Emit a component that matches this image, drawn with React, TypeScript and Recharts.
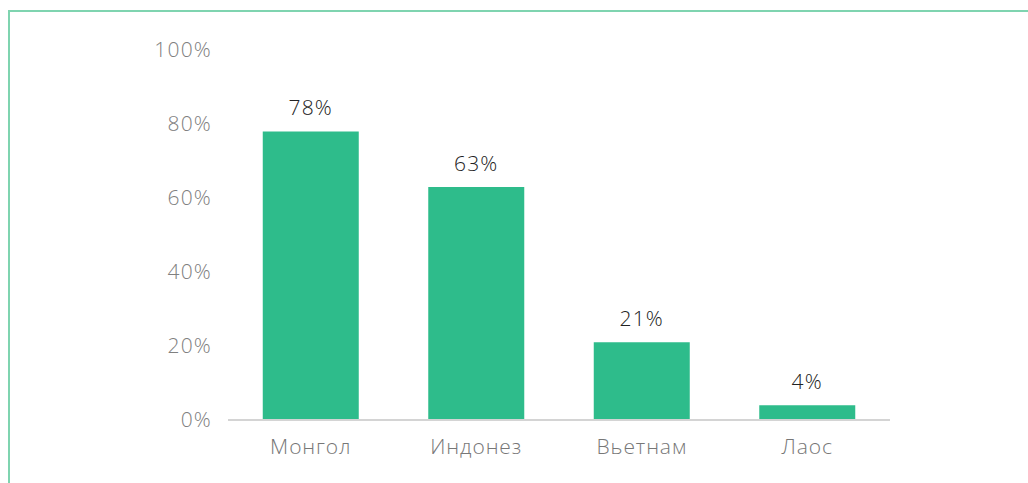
import { Bar, BarChart, LabelList, XAxis, YAxis } from 'recharts'

const countries = ['Монгол', 'Индонез', 'Вьетнам', 'Лаос']
const shares = [78, 63, 21, 4]
const yTicks = [0, 20, 40, 60, 80, 100]

const data = countries.map((name, i) => ({ name, value: shares[i] }))

const font = '"Open Sans", "Noto Sans", sans-serif'
const frame = '#7fd4b0'

export default function App() {
  return (
    <div style={{ position: 'fixed', left: 0, top: 0, width: 1028, height: 483, background: '#fff' }}>
      <div style={{ position: 'absolute', left: 8, top: 10, right: 0, height: 2, background: frame }} />
      <div style={{ position: 'absolute', left: 8, top: 10, width: 2, bottom: 0, background: frame }} />
      <BarChart
        width={1028}
        height={483}
        data={data}
        margin={{ top: 50, right: 138, bottom: 0, left: 0 }}
        barCategoryGap="21%"
        style={{ position: 'absolute', left: 0, top: 0, fontFamily: font }}
      >
        <XAxis
          dataKey="name"
          height={63}
          axisLine={{ stroke: '#d4d4d4', strokeWidth: 2 }}
          tickLine={false}
          tickSize={0}
          tickMargin={19}
          tick={{ fontSize: 21, fill: '#777', fontWeight: 300, letterSpacing: 0.9 }}
        />
        <YAxis
          width={228}
          domain={[0, 100]}
          ticks={yTicks}
          tickFormatter={(v: number) => `${v}%`}
          axisLine={false}
          tickLine={false}
          tickSize={0}
          tickMargin={16}
          tick={{ fontSize: 21, fill: '#808080', fontWeight: 300, letterSpacing: 1.2 }}
        />
        <Bar dataKey="value" fill="#2ebc8b" isAnimationActive={false}>
          <LabelList
            dataKey="value"
            position="top"
            offset={16}
            formatter={(v: number) => `${v}%`}
            style={{ fontSize: 21, fill: '#222', fontWeight: 300, letterSpacing: 1.2, fontFamily: font }}
          />
        </Bar>
      </BarChart>
    </div>
  )
}
